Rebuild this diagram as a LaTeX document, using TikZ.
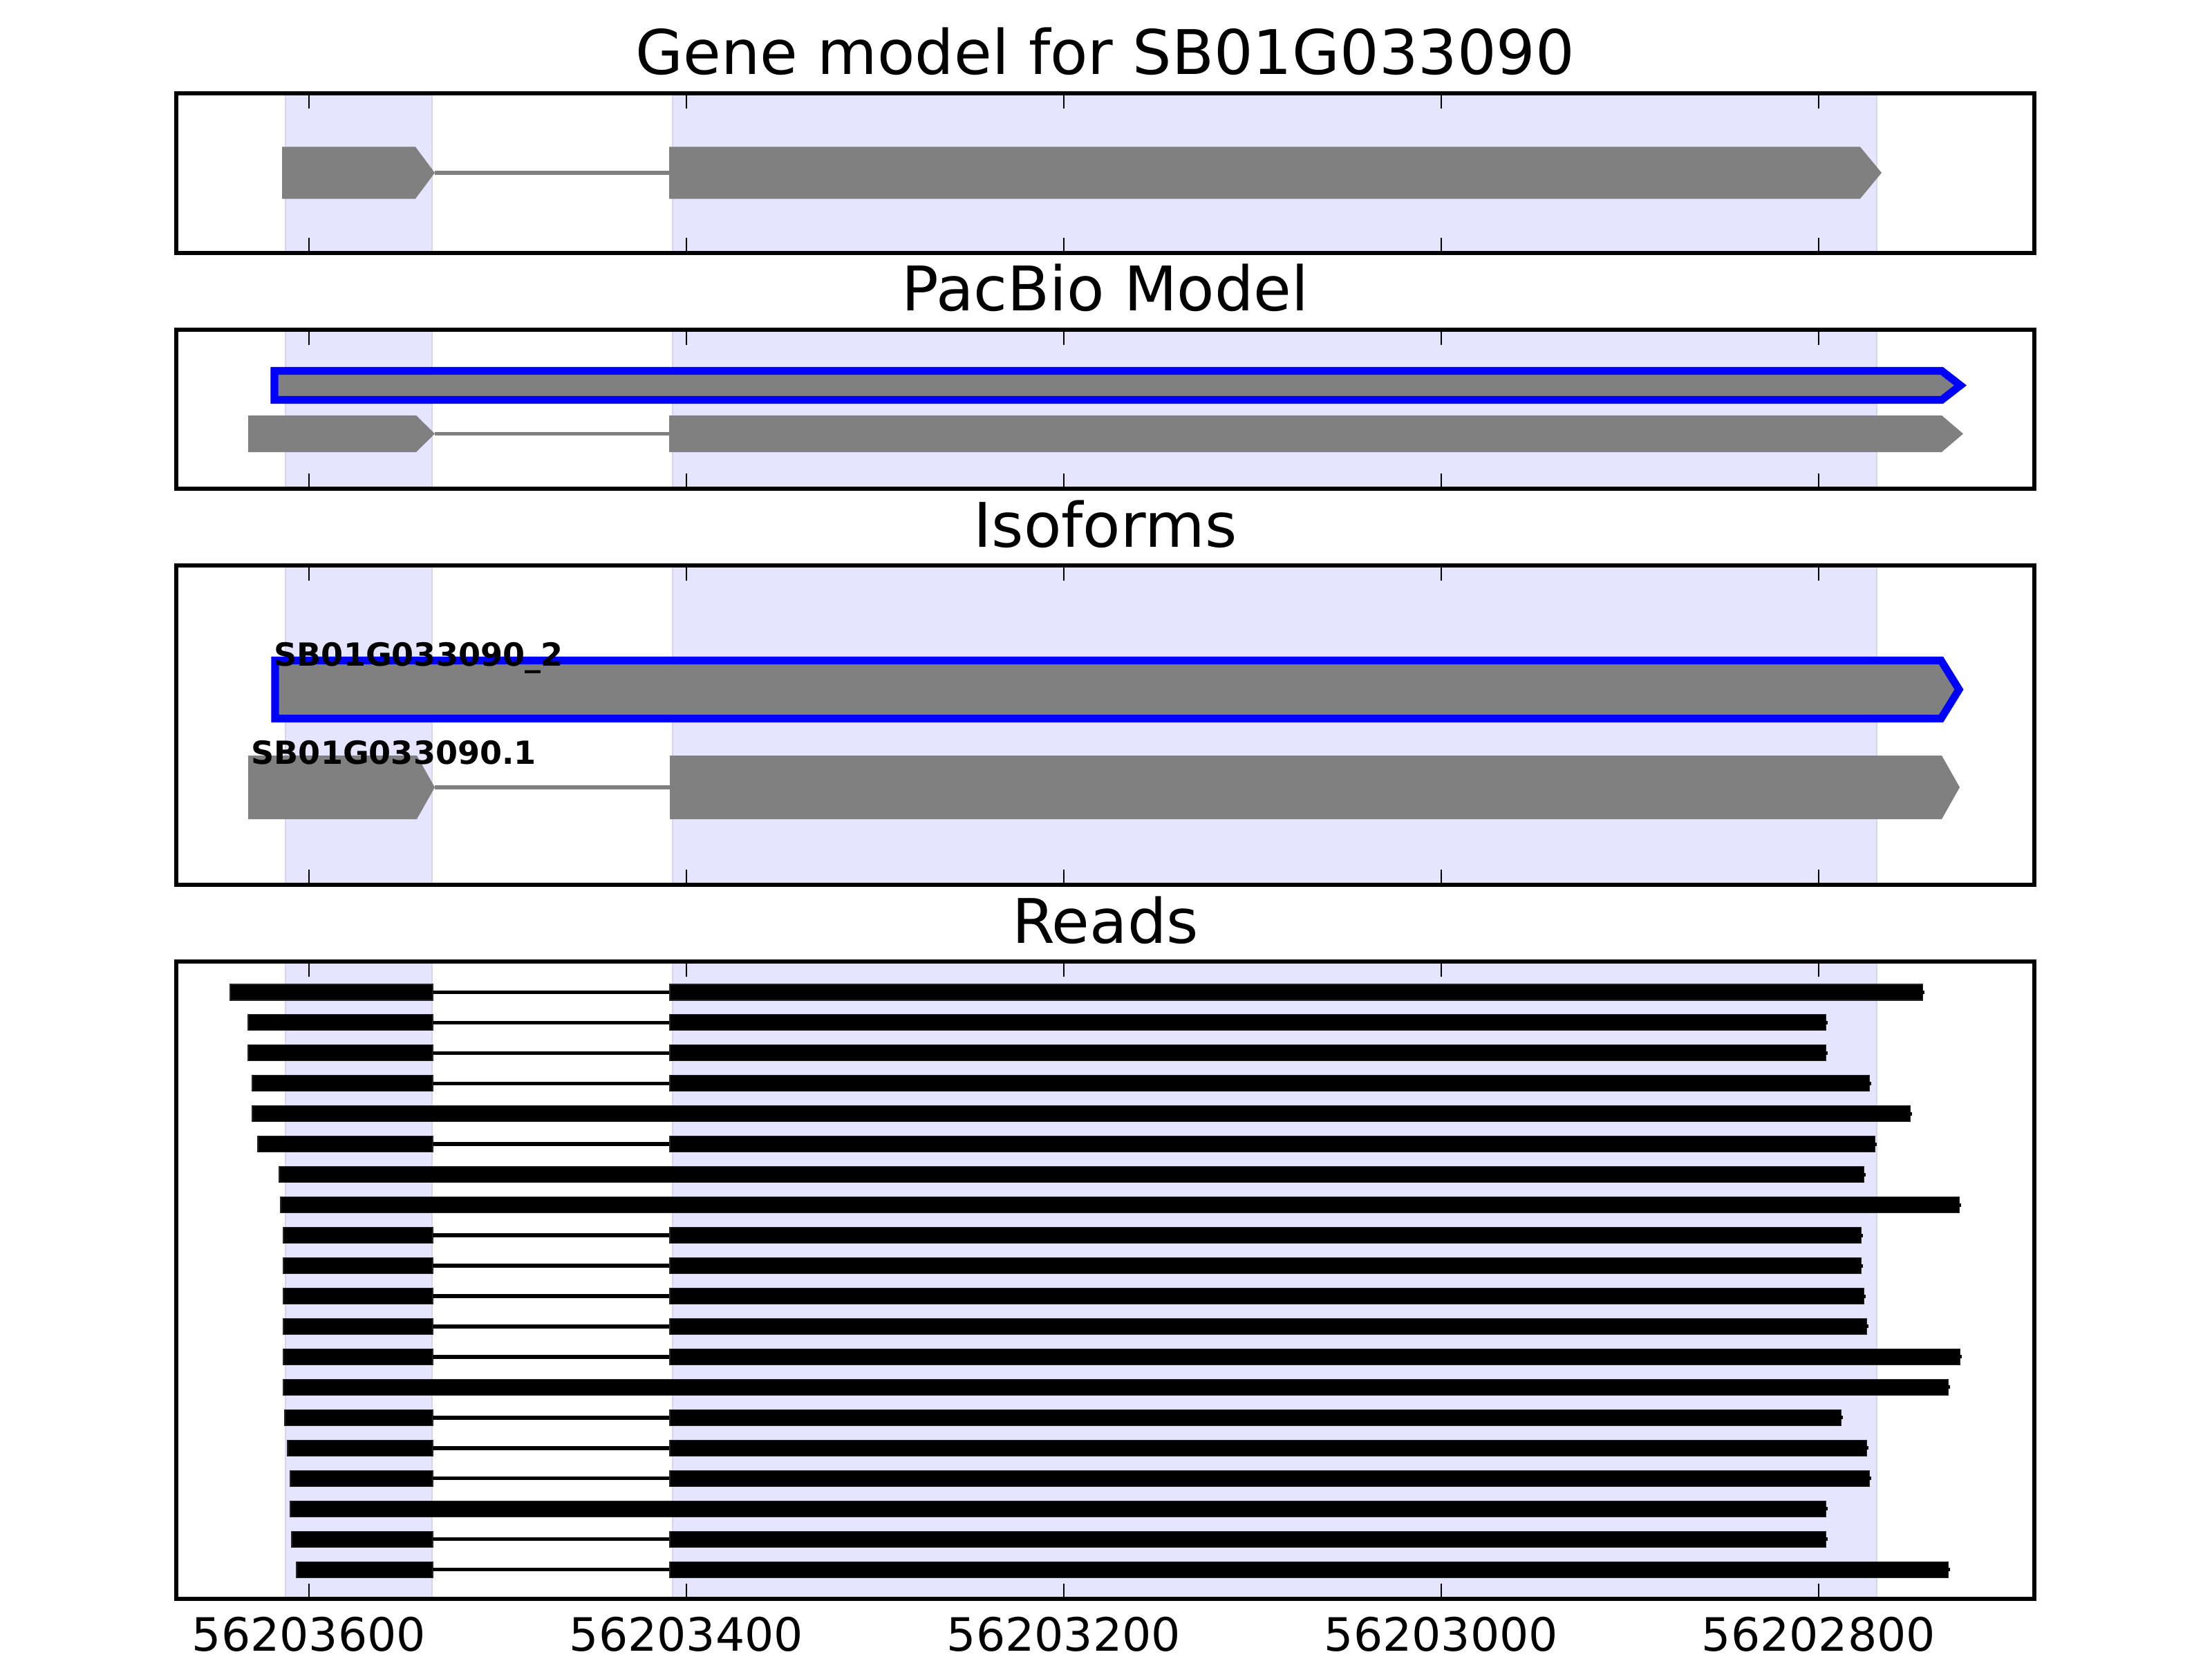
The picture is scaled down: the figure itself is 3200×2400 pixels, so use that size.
\documentclass[tikz,border=0pt]{standalone}
\usepackage{fontspec}
\setmainfont{DejaVu Sans}
\definecolor{shadeblue}{RGB}{229,229,255}
\definecolor{shadeedge}{RGB}{214,214,236}
\definecolor{exongray}{RGB}{128,128,128}
\definecolor{pblue}{RGB}{0,0,255}
\begin{document}
\begin{tikzpicture}[x=0.01cm,y=-0.01cm,
  shadebox/.style={fill=shadeblue, draw=shadeedge, line width=0.5pt},
  framebox/.style={draw=black, line width=1.576pt},
  tickmark/.style={draw=black, line width=0.79pt},
  exonshape/.style={fill=exongray, draw=none},
  intronline/.style={draw=exongray, line width=1.576pt},
  pacbio/.style={fill=exongray, draw=pblue, line width=3.15pt, line join=miter},
  readbar/.style={fill=black, draw=black!85, line width=0.3pt},
  readintron/.style={draw=black, line width=1.576pt},
  ttl/.style={font=\fontsize{25.3}{30}\selectfont, anchor=base, inner sep=0pt},
  ticklab/.style={font=\fontsize{18.9}{22}\selectfont, anchor=base, inner sep=0pt},
  isolab/.style={font=\bfseries\fontsize{13.1}{15}\selectfont, anchor=base west, inner sep=0pt}]
\useasboundingbox (0,0) rectangle (3200,2400);
\fill[white] (0,0) rectangle (3200,2400);

% shaded exon regions in each panel
\foreach \t/\b in {135/366, 477/707, 818/1280, 1391/2313}{
  \path[shadebox] (413,\t) rectangle (625,\b);
  \path[shadebox] (973,\t) rectangle (2715,\b);
}

% ---- Panel 1: gene model
\path[exonshape] (408,212.5) -- (601,212.5) -- (629,250) -- (601,287.5) -- (408,287.5) -- cycle;
\draw[intronline] (629,250) -- (968,250);
\path[exonshape] (968,212.5) -- (2691,212.5) -- (2722,250) -- (2691,287.5) -- (968,287.5) -- cycle;

% ---- Panel 2: PacBio model
\path[pacbio] (397,536.5) -- (2809,536.5) -- (2836,557.5) -- (2809,578.5) -- (397,578.5) -- cycle;
\path[exonshape] (359,601) -- (602,601) -- (629,627.5) -- (602,654) -- (359,654) -- cycle;
\draw[intronline] (629,627.5) -- (968,627.5);
\path[exonshape] (968,601) -- (2809,601) -- (2840,627.5) -- (2809,654) -- (968,654) -- cycle;

% ---- Panel 3: isoforms
\path[pacbio] (398,955.5) -- (2808,955.5) -- (2834,997.5) -- (2808,1039.5) -- (398,1039.5) -- cycle;
\path[exonshape] (359,1093) -- (603,1093) -- (629,1139) -- (603,1185) -- (359,1185) -- cycle;
\draw[intronline] (629,1139) -- (969,1139);
\path[exonshape] (969,1093) -- (2809,1093) -- (2835,1139) -- (2809,1185) -- (969,1185) -- cycle;
\node[isolab] (iso2) at (396,963) {SB01G033090\_2};
\node[isolab] (iso1) at (363,1105) {SB01G033090.1};

% ---- Panel 4: reads
\foreach \i/\L/\R/\sp in {1/333/2781/1, 2/359/2641/1, 3/359/2641/1, 4/365/2704/1,
  5/365/2763/0, 6/373/2712/1, 7/404/2696/0, 8/406/2834/0, 9/410/2692/1, 10/410/2692/1,
  11/410/2696/1, 12/410/2700/1, 13/410/2835/1, 14/410/2818/0, 15/412/2663/1,
  16/416/2700/1, 17/420/2704/1, 18/420/2641/0, 19/422/2641/1, 20/429/2818/1}{
  \pgfmathsetmacro\yc{1435.5+43.95*(\i-1)}
  \ifnum\sp=1
    \path[readbar] (\L,\yc-11.5) rectangle (626,\yc+11.5);
    \draw[readintron] (626,\yc) -- (969,\yc);
    \path[readbar] (969,\yc-11.5) rectangle (\R,\yc+11.5);
  \else
    \path[readbar] (\L,\yc-11.5) rectangle (\R,\yc+11.5);
  \fi
  \fill[black] (\R,\yc-2.5) rectangle (\R+2.5,\yc+2.5);
}

% frames and ticks
\foreach \t/\b in {135/366, 477/707, 818/1280, 1391/2313}{
  \foreach \x in {447,993,1539,2085,2631}{
    \draw[tickmark] (\x,\t) -- (\x,\t+22);
    \draw[tickmark] (\x,\b) -- (\x,\b-22);
  }
  \draw[framebox] (255,\t) rectangle (2943,\b);
}

% titles
\node[ttl] (t1) at (1599,108) {Gene model for SB01G033090};
\node[ttl] (t2) at (1599,449) {PacBio Model};
\node[ttl] (t3) at (1599,791) {Isoforms};
\node[ttl] (t4) at (1599,1364) {Reads};

% tick labels
\node[ticklab] (l1) at (447,2388) {56203600};
\node[ticklab] (l2) at (993,2388) {56203400};
\node[ticklab] (l3) at (1539,2388) {56203200};
\node[ticklab] (l4) at (2085,2388) {56203000};
\node[ticklab] (l5) at (2631,2388) {56202800};
\end{tikzpicture}
\end{document}
